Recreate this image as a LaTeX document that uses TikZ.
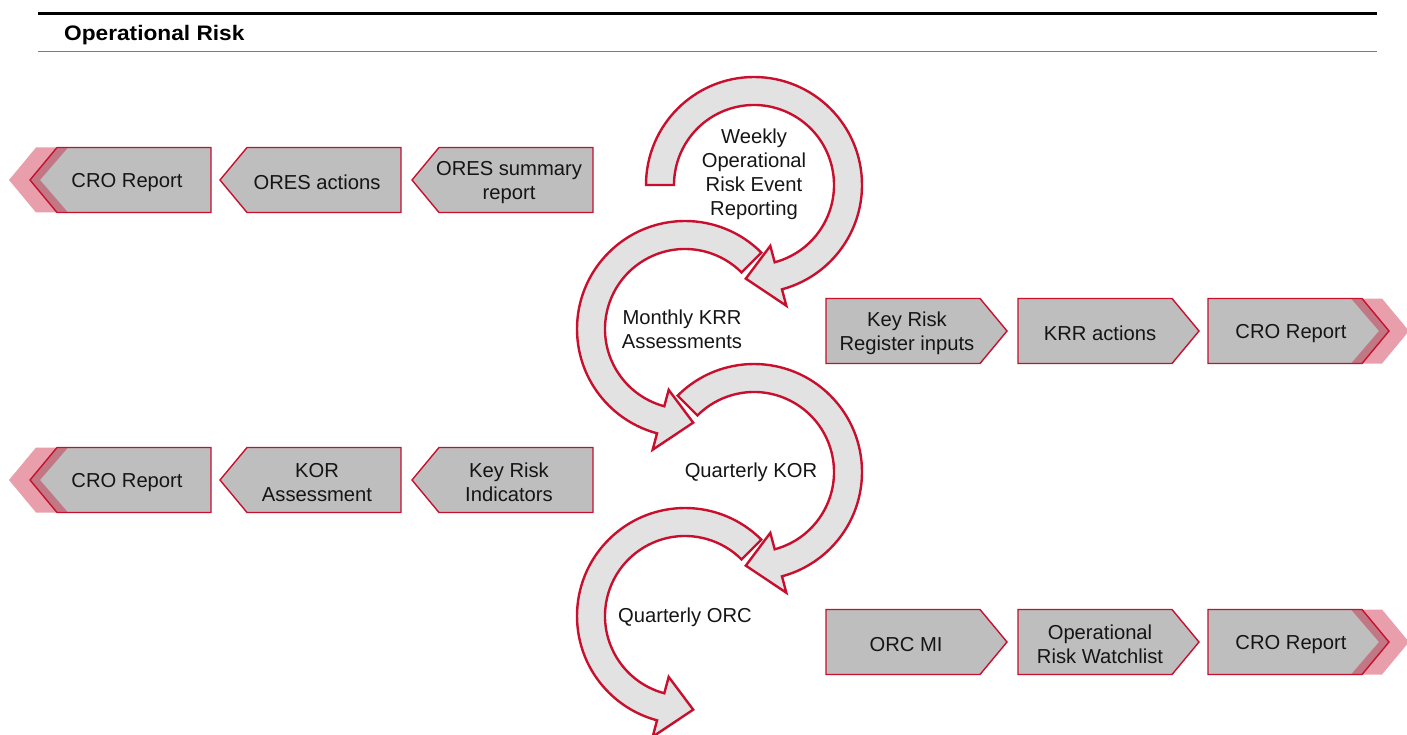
\documentclass[tikz,border=0pt]{standalone}
\usepackage{fontspec}
\setmainfont{Liberation Sans}
\newfontfamily\headfont{Liberation Sans}[FakeStretch=1.08]
\usepackage{xcolor}
\usepackage{tikz}
\usetikzlibrary{calc,positioning}
\definecolor{crim}{HTML}{C8102E}
\definecolor{boxgray}{HTML}{BEBEBE}
\definecolor{ringgray}{HTML}{E2E2E2}
\definecolor{ink}{HTML}{151515}
\definecolor{rule}{HTML}{7A7A7A}
\newcommand{\lblfont}{\fontsize{20.2}{24}\selectfont}
\tikzset{
  box/.style={draw=crim,fill=boxgray,line width=1.4pt},
  tail/.style={fill=crim,fill opacity=0.4},
  ring/.style={draw=crim,fill=ringgray,line width=2.4pt},
  lbl/.style={font=\lblfont,align=center,text=ink,inner sep=0pt,yshift=-2.5pt},
  head/.style={font=\headfont\fontsize{21}{24}\selectfont\bfseries,text=black,inner sep=0pt},
  pics/chevw/.style={code={\path[box] (0,0) -- (27,32.5) -- (181,32.5) -- (181,-32.5) -- (27,-32.5) -- cycle;}},
  pics/cheve/.style={code={\path[box] (0,0) -- (-27,32.5) -- (-181,32.5) -- (-181,-32.5) -- (-27,-32.5) -- cycle;}},
  pics/tailw/.style={code={\path[tail] (-21,0) -- (6,32.5) -- (38,32.5) -- (10,0) -- (38,-32.5) -- (6,-32.5) -- cycle;}},
  pics/taile/.style={code={\path[tail] (20,0) -- (-7,32.5) -- (-38,32.5) -- (-10,0) -- (-38,-32.5) -- (-7,-32.5) -- cycle;}},
}
\begin{document}
\begin{tikzpicture}[x=1pt,y=1pt]
\useasboundingbox (0,0) rectangle (1407,-735);
% header
\draw[line width=3pt] (38,-14) -- (1377,-14);
\draw[rule,line width=1.5pt] (38,-51.5) -- (1377,-51.5);
\node[head,anchor=base west] (title) at (64,-41) {Operational Risk};
% left rows
\pic at (30,-180) {chevw};  \pic at (30,-180) {tailw};
\pic at (220,-180) {chevw};
\pic at (412,-180) {chevw};
\node[lbl] (a1) at (127,-180) {CRO Report};
\node[lbl] (a2) at (317,-180) {ORES actions};
\node[lbl] (a3) at (509,-180) {ORES summary\\report};
\pic at (30,-480) {chevw};  \pic at (30,-480) {tailw};
\pic at (220,-480) {chevw};
\pic at (412,-480) {chevw};
\node[lbl] (b1) at (127,-480) {CRO Report};
\node[lbl] (b2) at (317,-480) {KOR\\Assessment};
\node[lbl] (b3) at (509,-480) {Key Risk\\Indicators};
% right rows
\pic at (1007,-331) {cheve};
\pic at (1199,-331) {cheve};
\pic at (1389,-331) {cheve}; \pic at (1389,-331) {taile};
\node[lbl] (c1) at (907,-331) {Key Risk\\Register inputs};
\node[lbl] (c2) at (1100,-331) {KRR actions};
\node[lbl] (c3) at (1291,-331) {CRO Report};
\pic at (1007,-642) {cheve};
\pic at (1199,-642) {cheve};
\pic at (1389,-642) {cheve}; \pic at (1389,-642) {taile};
\node[lbl] (d1) at (906,-642) {ORC MI};
\node[lbl] (d2) at (1100,-642) {Operational\\Risk Watchlist};
\node[lbl] (d3) at (1291,-642) {CRO Report};
% cycle arrows
\coordinate (r1) at (754,-185);
\coordinate (r2) at (685,-329);
\coordinate (r3) at (754,-472);
\coordinate (r4) at (685,-616);
\draw[ring] ($(r1)+(180:108)$) arc[start angle=180,end angle=-75,radius=108]
  -- ($(r1)+(-75:125)$) -- ($(r1)+(-95:94)$) -- ($(r1)+(-75:63)$) -- ($(r1)+(-75:80)$)
  arc[start angle=-75,end angle=180,radius=80] -- cycle;
\draw[ring] ($(r2)+(45:108)$) arc[start angle=45,end angle=255,radius=108]
  -- ($(r2)+(255:125)$) -- ($(r2)+(275:94)$) -- ($(r2)+(255:63)$) -- ($(r2)+(255:80)$)
  arc[start angle=255,end angle=45,radius=80] -- cycle;
\draw[ring] ($(r3)+(135:108)$) arc[start angle=135,end angle=-75,radius=108]
  -- ($(r3)+(-75:125)$) -- ($(r3)+(-95:94)$) -- ($(r3)+(-75:63)$) -- ($(r3)+(-75:80)$)
  arc[start angle=-75,end angle=135,radius=80] -- cycle;
\draw[ring] ($(r4)+(45:108)$) arc[start angle=45,end angle=255,radius=108]
  -- ($(r4)+(255:125)$) -- ($(r4)+(275:94)$) -- ($(r4)+(255:63)$) -- ($(r4)+(255:80)$)
  arc[start angle=255,end angle=45,radius=80] -- cycle;
\node[lbl] (w) at (754,-172) {Weekly\\Operational\\Risk Event\\Reporting};
\node[lbl] (m) at (682,-327) {Monthly KRR\\Assessments};
\node[lbl] (q1) at (751,-470) {Quarterly KOR};
\node[lbl] (q2) at (685,-615) {Quarterly ORC};
\end{tikzpicture}
\end{document}
